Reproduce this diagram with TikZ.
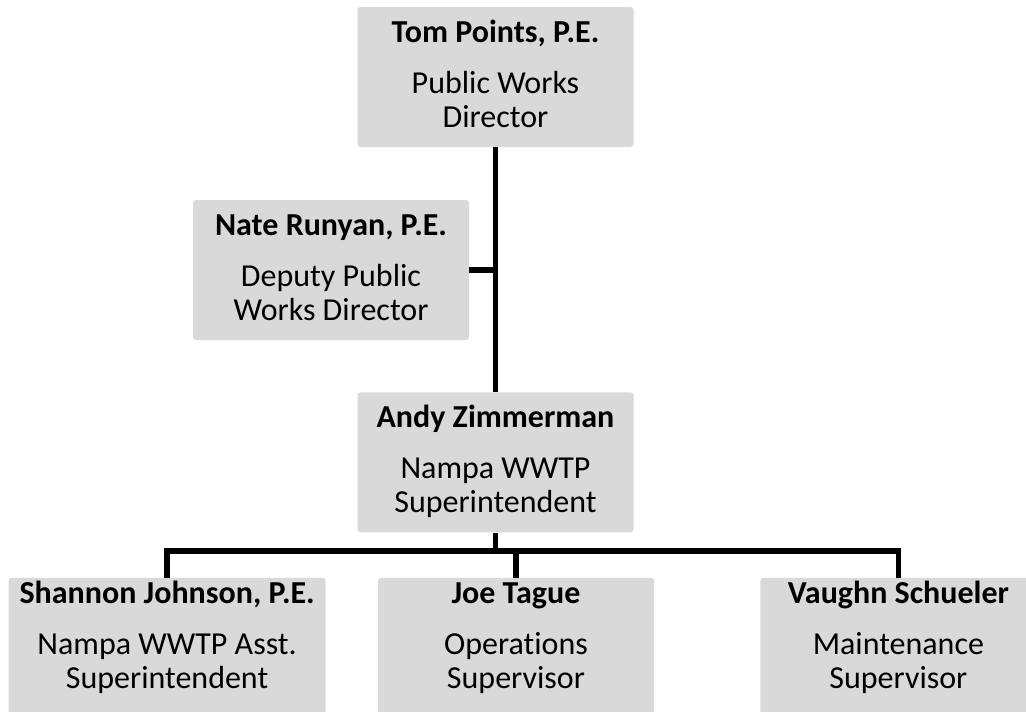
\documentclass[tikz,border=0pt]{standalone}
\usepackage{fontspec}
\setmainfont{Carlito}[Ligatures=NoCommon]
\usepackage{xcolor}
\usepackage{tikz}
\usetikzlibrary{positioning, calc}
\definecolor{boxgray}{HTML}{D9D9D9}
\newcommand{\staff}[4][8pt]{\rule{0pt}{24pt}\textbf{#2}\\[17pt]#3\\#4\rule[-#1]{0pt}{#1}}

\begin{document}
\begin{tikzpicture}[
    x=1pt, y=-1pt,
    post/.style={rectangle, rounded corners=3pt, fill=boxgray, minimum width=276pt, minimum height=140pt, inner sep=0pt, align=center, font=\fontsize{32}{34}\selectfont},
    link/.style={draw=black, line width=5.5pt}
]
\useasboundingbox (0,0) rectangle (1026,712);
\clip (0,0) rectangle (1026,712);

% Director and deputy
\node[post] (tom) at (495.5,77) {\staff{Tom Points, P.E.}{Public Works}{Director}};
\node[post] (nate) at (331,270) {\staff{Nate Runyan, P.E.}{Deputy Public}{Works Director}};

% Plant superintendent
\node[post, below=245pt of tom] (andy) {\staff{Andy Zimmerman}{Nampa WWTP}{Superintendent}};

% Supervisors
\node[post, below=45pt of andy, xshift=20.5pt] (joe) {\staff[28pt]{Joe Tague}{Operations}{Supervisor}};
\node[post, minimum width=317pt, left=52pt of joe] (shannon) {\staff[28pt]{Shannon Johnson, P.E.}{Nampa WWTP Asst.}{Superintendent}};
\node[post, right=106pt of joe] (vaughn) {\staff[28pt]{Vaughn Schueler}{Maintenance}{Supervisor}};

% Reporting lines
\coordinate (bus) at (495.5,551);
\draw[link] (tom) -- (andy);
\draw[link] (nate.east) -- (nate.east -| tom.south);
\draw[link] (andy.south) -- (bus);
\draw[link] (shannon.north) |- (bus) -| (vaughn.north);
\draw[link] (joe.north) -- (joe.north |- bus);

\end{tikzpicture}
\end{document}
